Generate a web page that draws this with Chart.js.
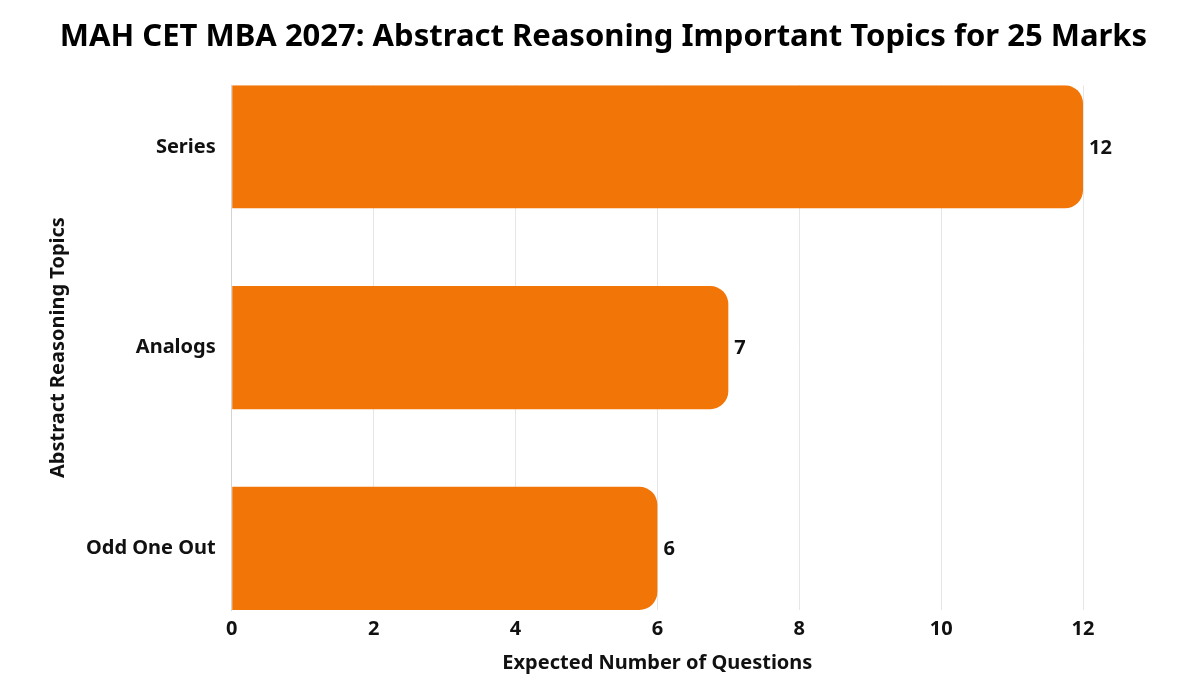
<!DOCTYPE html>
<html>
<head>
<meta charset="utf-8">
<script src="https://cdn.jsdelivr.net/npm/chart.js@4"></script>
<style>
html,body{margin:0;padding:0;background:#fff;}
#wrap{width:1200px;height:691px;}
</style>
</head>
<body>
<div id="wrap"><canvas id="c" width="1200" height="691"></canvas></div>
<script>
const categories = ["Series", "Analogs", "Odd One Out"];
const questions = [12, 7, 6];
const xTicks = [0, 2, 4, 6, 8, 10, 12];

const FONT = "'Noto Sans', sans-serif";

const labelPlugin = {
  id: 'barLabels',
  afterDatasetsDraw(chart) {
    const ctx = chart.ctx;
    const meta = chart.getDatasetMeta(0);
    ctx.save();
    ctx.font = "bold 20px " + FONT;
    ctx.fillStyle = "#111";
    ctx.textAlign = "left";
    ctx.textBaseline = "middle";
    meta.data.forEach((bar, i) => {
      ctx.fillText(String(questions[i]), bar.x + 6, bar.y + 1);
    });
    ctx.restore();
  }
};

new Chart(document.getElementById('c'), {
  type: 'bar',
  data: {
    datasets: [{
      data: questions.map((v, i) => ({ x: v, y: i })),
      backgroundColor: '#F27508',
      borderRadius: 18,
      borderSkipped: 'start',
      barPercentage: 0.613,
      categoryPercentage: 1
    }]
  },
  plugins: [labelPlugin],
  options: {
    indexAxis: 'y',
    responsive: false,
    animation: false,
    devicePixelRatio: 1,
    layout: { padding: { left: 19, right: 12, bottom: 12, top: 0 } },
    plugins: {
      legend: { display: false },
      tooltip: { enabled: false },
      title: {
        display: true,
        text: 'MAH CET MBA 2027: Abstract Reasoning Important Topics for 25 Marks',
        color: '#000',
        font: { family: FONT, size: 31, weight: 'bold' },
        padding: { top: 19, bottom: 29 }
      }
    },
    scales: {
      x: {
        type: 'linear',
        min: 0,
        max: 12,
        afterBuildTicks(scale) { scale.ticks = xTicks.map(v => ({ value: v })); },
        grid: { color: '#e6e6e6', drawTicks: false },
        border: { display: false },
        ticks: { color: '#111', padding: 7, font: { family: FONT, size: 20, weight: 'bold' } },
        title: {
          display: true,
          text: 'Expected Number of Questions',
          color: '#111',
          font: { family: FONT, size: 20, weight: 'bold' },
          padding: { top: 3, bottom: 4 }
        }
      },
      y: {
        type: 'linear',
        reverse: true,
        offset: false,
        min: -0.307,
        max: 2.307,
        afterBuildTicks(scale) { scale.ticks = categories.map((c, i) => ({ value: i })); },
        grid: { display: false, drawTicks: false },
        border: { display: true, color: '#d4d4d4', width: 1 },
        ticks: {
          color: '#111',
          padding: 16,
          font: { family: FONT, size: 20, weight: 'bold' },
          callback: (v) => categories[v]
        },
        title: {
          display: true,
          text: 'Abstract Reasoning Topics',
          color: '#111',
          font: { family: FONT, size: 20, weight: 'bold' },
          padding: { top: 27, bottom: 0 }
        }
      },
      yRight: {
        type: 'linear',
        position: 'right',
        display: true,
        grid: { display: false, drawTicks: false },
        border: { display: false },
        ticks: { display: false },
        afterFit(scale) { scale.width = 105; }
      }
    }
  }
});
</script>
</body>
</html>
